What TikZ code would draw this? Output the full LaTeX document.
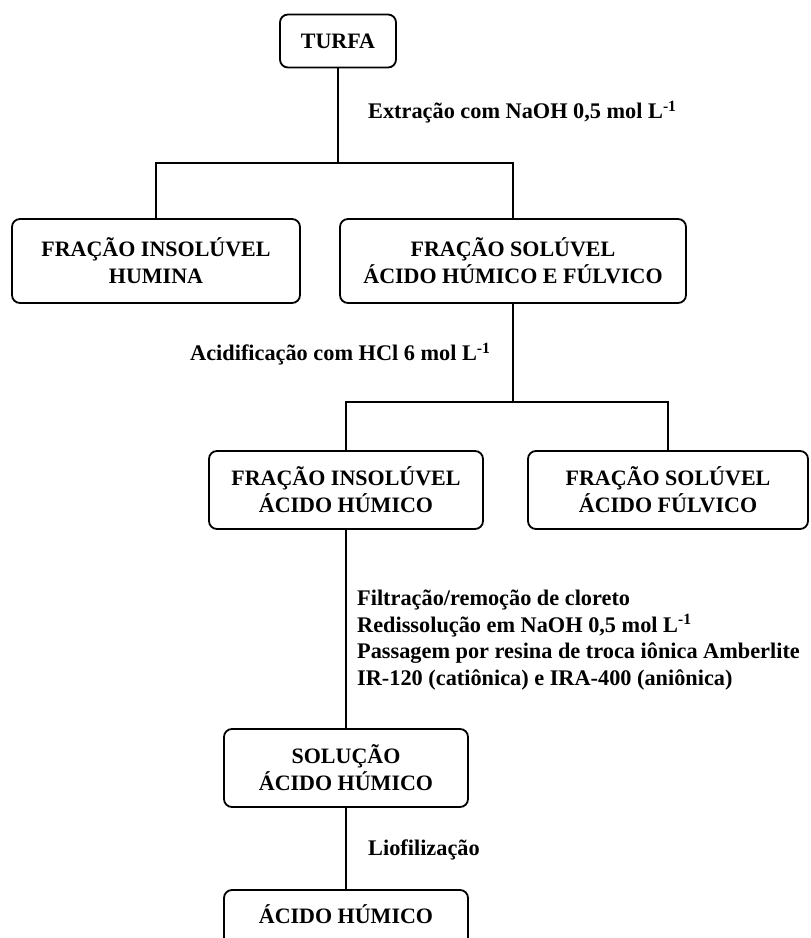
\documentclass[tikz,border=0pt]{standalone}
\usepackage{fontspec}
\setmainfont{Liberation Serif}
\begin{document}
\begin{tikzpicture}[x=1pt,y=-1pt,
 box/.style={draw, line width=1.8pt, rounded corners=8pt, align=center, font=\bfseries\fontsize{22}{27}\selectfont, inner sep=0pt},
 lbl/.style={font=\bfseries\fontsize{22.3}{26.7}\selectfont, inner sep=0pt, anchor=west, align=left},
 conn/.style={line width=1.8pt}]
\useasboundingbox (0,0) rectangle (811,938);
\clip (0,0) rectangle (811,938);
\node[box, minimum width=116pt, minimum height=53pt] (turfa) at (338,41) {TURFA};
\node[lbl] (lab1) at (368,112) {Extração com NaOH 0,5 mol L\textsuperscript{-1}};
\node[box, minimum width=288pt, minimum height=84pt] (ins1) at (156,261) {FRAÇÃO INSOLÚVEL\\HUMINA};
\node[box, minimum width=346pt, minimum height=84pt] (sol1) at (513,261) {FRAÇÃO SOLÚVEL\\ÁCIDO HÚMICO E FÚLVICO};
\node[lbl] (lab2) at (190,354) {Acidificação com HCl 6 mol L\textsuperscript{-1}};
\node[box, minimum width=274pt, minimum height=78pt] (ins2) at (346,490) {FRAÇÃO INSOLÚVEL\\ÁCIDO HÚMICO};
\node[box, minimum width=280pt, minimum height=78pt] (sol2) at (668,490) {FRAÇÃO SOLÚVEL\\ÁCIDO FÚLVICO};
\node[lbl] (lab3) at (357,640) {Filtração/remoção de cloreto\\Redissolução em NaOH 0,5 mol L\textsuperscript{-1}\\Passagem por resina de troca iônica Amberlite\\IR-120 (catiônica) e IRA-400 (aniônica)};
\node[box, minimum width=244pt, minimum height=78pt] (solucao) at (346,768) {SOLUÇÃO\\ÁCIDO HÚMICO};
\node[lbl] (lab4) at (368,850) {Liofilização};
\node[box, minimum width=244pt, minimum height=78pt, text depth=30pt] (final) at (346,929) {ÁCIDO HÚMICO};
\coordinate (j1) at (338,163);
\coordinate (j2) at (513,402);
\draw[conn] (turfa.south) -- (j1);
\draw[conn] (ins1.north) |- (j1) -| (sol1.north);
\draw[conn] (sol1.south) -- (j2);
\draw[conn] (ins2.north) |- (j2) -| (sol2.north);
\draw[conn] (ins2.south) -- (solucao.north);
\draw[conn] (solucao.south) -- (final.north);
\end{tikzpicture}
\end{document}
